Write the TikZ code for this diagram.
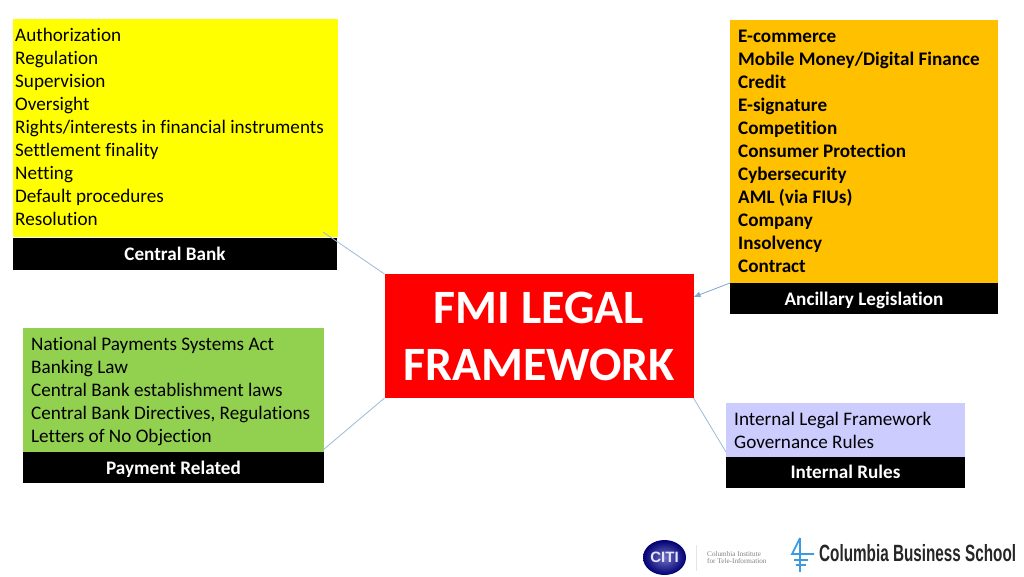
\documentclass[tikz,border=0pt]{standalone}
\usetikzlibrary{arrows.meta}
\usepackage{fontspec}
\setmainfont[Ligatures=NoCommon]{Carlito}
\newfontfamily\logofont[FakeStretch=0.65]{Liberation Sans}
\newfontfamily\citifont{Liberation Sans}
\newfontfamily\citiserif{Liberation Serif}
\definecolor{cbyellow}{HTML}{FFFF00}
\definecolor{ancorange}{HTML}{FFC000}
\definecolor{paygreen}{HTML}{92D050}
\definecolor{intlilac}{HTML}{CCCCFF}
\definecolor{fmired}{HTML}{FF0000}
\definecolor{linkblue}{HTML}{9DB8D6}
\definecolor{arrowblue}{HTML}{7FA6CF}
\definecolor{cubrand}{HTML}{3C9BE0}
\tikzset{
  listtext/.style={anchor=north west,align=left,inner sep=0pt,font=\fontsize{19.15}{23}\selectfont,text=black},
  capbox/.style={fill=black,text=white,inner sep=0pt,outer sep=0pt,text height=12.5pt,text depth=0pt,font=\fontsize{19.15}{23}\selectfont\bfseries},
  panel/.style={inner sep=0pt,outer sep=0pt},
  link/.style={draw=linkblue,line width=0.8pt},
}
\begin{document}
\begin{tikzpicture}[x=1pt,y=-1pt]
\useasboundingbox (0,0) rectangle (1024,576);

% Coloured panels
\node[panel,fill=cbyellow,minimum width=325pt,minimum height=218pt] (cbpanel) at (175,128) {};
\node[panel,fill=ancorange,minimum width=268pt,minimum height=263pt] (ancpanel) at (864,151.5) {};
\node[panel,fill=paygreen,minimum width=301pt,minimum height=124pt] (paypanel) at (173.5,390) {};
\node[panel,fill=intlilac,minimum width=239pt,minimum height=54pt] (intpanel) at (845.5,430) {};

% Captions
\node[capbox,minimum width=324pt,minimum height=31.5pt] (cbcap) at (175,254) {Central Bank};
\node[capbox,minimum width=268pt,minimum height=31pt,text height=14pt] (anccap) at (864,298.5) {Ancillary Legislation};
\node[capbox,minimum width=301pt,minimum height=31pt,text height=14pt] (paycap) at (173.5,467.5) {Payment Related};
\node[capbox,minimum width=239pt,minimum height=31pt] (intcap) at (845.5,472) {Internal Rules};

% Centre
\node[fill=fmired,text=white,inner sep=0pt,outer sep=0pt,minimum width=309pt,minimum height=124pt,align=center,
      font=\fontsize{47.9}{57}\selectfont\bfseries] (fmi) at (539,336) {FMI LEGAL\\FRAMEWORK};

% Lists
\node[listtext] (cblist) at (15,28.3) {Authorization\\Regulation\\Supervision\\Oversight\\Rights/interests in financial instruments\\Settlement finality\\Netting\\Default procedures\\Resolution};
\node[listtext,font=\fontsize{19.15}{23}\selectfont\bfseries] (anclist) at (738,30) {E-commerce\\Mobile Money/Digital Finance\\Credit\\E-signature\\Competition\\Consumer Protection\\Cybersecurity\\AML (via FIUs)\\Company\\Insolvency\\Contract};
\node[listtext] (paylist) at (31,336.5) {National Payments Systems Act\\Banking Law\\Central Bank establishment laws\\Central Bank Directives, Regulations\\Letters of No Objection};
\node[listtext] (intlist) at (734,412) {Internal Legal Framework\\Governance Rules};

% Connectors
\coordinate (cbfree) at (323,232);
\coordinate (payfree) at (323,450);
\coordinate (intfree) at (726,452);
\coordinate (ancfree) at (730,283);
\draw[link] (cbfree) -- (fmi.north west);
\draw[link] (payfree) -- (fmi.south west);
\draw[link] (intfree) -- (fmi.south east);
\draw[draw=arrowblue,line width=0.8pt,-{Latex[length=7pt,width=6pt]}] (ancfree) -- ([yshift=-23pt]fmi.north east);

% CITI logo
\shade[inner color=blue!40!gray!80!white,outer color=blue!45!black] (664.5,557.5) ellipse (21.5 and 17.5);
\node[inner sep=0pt,text=white!90!blue,font=\citifont\bfseries\fontsize{15}{15}\selectfont] (citi) at (664.5,557.5) {CITI};
\draw[black!10,line width=0.7pt] (696,545) -- (696,571);
\node[anchor=west,inner sep=0pt,align=left,text=black!50,font=\citiserif\fontsize{7.2}{7}\selectfont] (citi2) at (707,557.5) {Columbia Institute\\for Tele-Information};

% Columbia Business School logo
\draw[cubrand,line width=1.8pt] (800,538) -- (792,554) -- (814,554);
\draw[cubrand,line width=1.8pt] (800,538) -- (800,572);
\draw[cubrand,line width=1.6pt] (794,560) -- (808,560) (796,565) -- (806,565);
\node[anchor=west,inner sep=0pt,text=black!85,font=\logofont\bfseries\fontsize{23.5}{24}\selectfont] (cbs) at (819,553.5) {Columbia Business School};
\end{tikzpicture}
\end{document}
